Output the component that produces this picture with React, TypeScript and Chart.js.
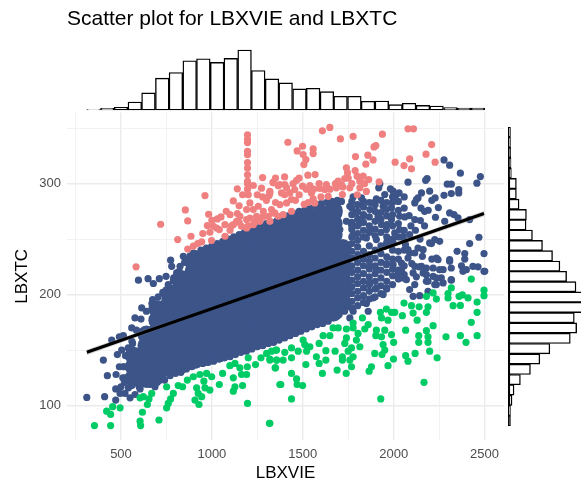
import React, { useEffect, useRef } from "react";
import { Chart, registerables } from "chart.js";

Chart.register(...registerables);

type P = [number, number];

const BLUE = "#3C5488";
const RED = "#F08080";
const GREEN = "#00CC66";
const FONT = "'Liberation Sans', Arial, sans-serif";

const titleText = "Scatter plot for LBXVIE and LBXTC";
const xLabel = "LBXVIE";
const yLabel = "LBXTC";

const xHistBins = [349,425,500,576,651,727,802,878,953,1029,1104,1180,1255,1331,1406,1482,1557,1633,1708,1784,1859,1935,2010,2085,2161,2236,2312,2387,2463];
const xHistCounts = [1,5,8,24,51,95,112,147,153,142,154,179,118,93,81,63,65,55,41,41,26,27,16,20,14,12,7,6,6];
const yHistBins = [346.5,337.2,327.9,318.6,309.3,300,290.7,281.4,272.1,262.8,253.5,244.2,234.9,225.6,216.3,207,197.7,188.4,179.1,169.8,160.5,151.2,141.9,132.6,123.3,114,104.7,95.4,86.1];
const yHistCounts = [3,3,5,6,7,22,22,30,52,51,70,100,130,152,172,200,222,222,195,202,183,122,92,64,34,15,9,2,1];

const fitX = [312, 1200, 2497];
const fitY = [148, 198.8, 273];
const fitUpper = [150.6, 199.6, 275.6];
const fitLower = [145.4, 198, 270.4];

const redPoints: P[] = [
[1196,344],[1196,340],[1196,337],[1196,329],[1196,326],[1196,319],[1196,314],[1196,308],[1196,302],[1196,300],[1196,295],
[583,225],[718,263.4],[812,249.6],[854,276.3],[867,266.4],[885,252.6],[867,241.1],[898,243.6],[944,247.5],[922,246],[962,289.2],[982,272.4],[975,262.2],[1008,261.6],[989,256.2],[998,248.7],[1030,268.2],[1041,258.6],[1072,263],[1079,275.1],[1072,252.6],[1118,284.4],[1140,295.3],[1140,273],[1169,290],[1136,266],[1108,262],[1163,261.6],[1191,260],[1228,298.3],[1279,305.5],[1273,295.9],[1279,288],[1319,293],[1337,301.3],[1365,298],[1315,289.2],[1209,282.6],[1191,276.6],[1228,276.6],[1255,279.6],[1283,275],[1246,270.6],[1209,269],[1310,270.6],[1337,273.6],[1264,266],[1319,266],[1365,270.6],[1228,263],[1191,267.6],[1026,260],[1118,263],[1154,270.6],
[1418,337.3],[1469,329.5],[1499,333.7],[1502,326.2],[1517,321.7],[1506,317.2],[1557,331.3],[1557,327.1],[1608,347.6],[1649,350.6],[1707,340.3],[1777,342.5],[1938,344.6],[1892,333.1],[1902,334.3],[1790,324.4],[1858,325.6],[1887,321.4],[1847,317.5],[2079,349.4],[2109,349.4],[2209,335.2],[2178,326.5],[2088,322.3],[2008,319.3],[2057,316.3],[2098,313.3],[2228,319.3],[1528,307.6],[1568,308.2],[1740,314.2],[1746,309.7],[1788,311.8],[1799,306.7],[1832,306.7],[1863,303.7],[1920,301.6],[1814,302.2],[1731,304.6],[1695,302.2],[1713,299.2],[1759,296.2],[1814,296.2],[1685,296.2],[1718,290.2],[1630,299.2],[1594,295.6],[1640,288.6],[1621,294.7],[1466,303],[1447,300],[1499,297.7],[1539,298.3],[1548,291.6],[1557,286.2],[1566,282.6],[1508,281.4],[1438,275.1],[1456,294.7],[1429,291.6],[1411,296.2],[1374,299.2],[1337,300.7],[1401,299.2],[1438,285.6],[1411,282.6],[1374,281.1],[1328,276.6],[1346,273.6],[1392,272],[1319,291.6],[1383,291.6],
[1100,258],[1150,265],[1200,262],[1240,266],[1280,270],[1350,283],[1400,290],[1460,285],[1480,290],[1520,295],[1530,283],[1560,295],[1600,288],[1650,295],[1680,300],[1750,305],[1770,300],[1840,300],[1800,290],[1850,293],[1720,297],[1590,300],[1480,305],[1400,306],[1350,305],[1300,285],[1250,290],[1200,290],[1150,280],[1100,272],[1050,270],[1000,267],[950,255],
];

const greenPoints: P[] = [
[2427,214],[2317,206],[2497,204],[2497,199],[2217,201.5],[2180,198.5],[2235,196],[2299,201],[2299,197],[2360,198.5],[2378,199.7],[2409,197],[2459,193.3],[2327,190],[2367,190.3],[2459,184],[2427,175],[2459,163],[2367,163],[2398,157],[2288,162],[2057,192.4],[2098,190],[2140,189],[2189,189],[2180,184],[2107,183.4],[2129,177],[2048,181],[2006,184],[1988,184],[1960,187],[1927,184],[1933,179],[1969,177],[2217,172],[2180,167.5],[2066,168],[2138,163],[2189,162],[2189,157],[2138,157],[2198,149],[2118,147],[2239,143],[2066,145],[2079,140],[1999,142],[1969,136],[1878,135],[1865,131],[2167,121],[1929,106],[1828,179],[1860,173],[1841,169],[1777,174.4],[1777,170],[1740,169],[1695,170],[1667,170],[1649,163],[1612,163],[1590,156],[1740,161],[1731,156],[1804,165],[1795,159],[1814,153],[1768,152],[1750,149],[1777,144],[1759,141],[1768,135],[1718,144],[1718,141],[1678,149],[1627,149.5],[1627,141],[1590,138],[1575,144],[1539,153],[1502,159],[1511,155],[1475,149],[1521,149],[1438,152],[1401,148],[1438,143],[1356,150],[1328,149],[1392,141],[1356,141],[1319,142],[1348,134],[1517,137],[1438,129],[1466,124],[1469,119],[1499,118],[1379,119],[1438,106],[1608,129],[1689,132],[1739,129],[1319,84],[1905,168],[1902,163],[1951,168],[1988,164],[2000,157],[1933,162],[1942,155],[1951,150],[1896,147],[1936,146],
[354,82],[443,82],[421,95],[443,92],[454,99],[495,98],[605,86],[608,82],[618,94],[709,87],[605,107],[623,108],[645,101],[654,106],[669,111],[751,98],[760,102],[773,106],[788,111],[751,117],[815,118],[839,117],[865,123],[898,126],[916,116],[925,111],[944,108],[907,105],[929,101],[962,116],[989,114],[956,122],[934,128],[971,129],[999,126],[1041,119],[1059,129],[1099,136],[1127,138],[1154,134],[1118,125],[1127,117],[1118,113],[1169,118],[1163,128],[1195,135],[1200,143],[1191,128],[1240,137],[1270,143],[1301,147],[1319,141],[1352,150],[1356,141],[1350,134],[1374,119],[1196,102],[1317,84],
];

const blueSparse: P[] = [
[2277,321.4],[2308,316.6],[2367,309.4],[2477,306.4],[2458,300.4],[2079,301.3],[2184,304.6],[2176,303],[2295,299.5],[2317,299.5],[2358,294.7],[2358,291.6],[2317,291],[2277,289.5],[2198,293.2],[2228,287.1],[2246,278.4],[1924,300],[1918,296.2],[1982,295.3],[1951,290.2],[2015,290.2],[1997,293.2],[2030,291.6],[2006,285.6],[2153,291.6],[2134,287.1],[2116,282.6],[2125,285.6],[1905,286.2],[1887,282.6],[1823,287.1],[1777,288],[1942,279.6],[1960,276.6],[1988,278.1],[1869,276.6],[1914,270.6],[1988,267.6],[2033,270.6],[2085,271.2],[2061,270],[2116,267.6],[2147,266.7],[2230,269.7],[2308,273.6],[2332,272.1],[2281,266.1],[2354,269.1],[2418,267.6],[2469,251.7],[2418,246],[2497,237],[2349,239],[2391,237],[2391,232],[2253,248],[2226,249.6],[2208,246],[2162,240.5],[2120,258],[2088,254],[2033,258.6],[2006,255.6],[1960,258.6],[1933,263],[1869,257],[1814,264.6],[1768,263],[1740,266],[1704,258.6],[1759,279.6],[1713,284],[1667,282.6],[1832,270.6],[1795,273.6],[1777,254],[1850,251],[1905,249.6],[1951,243.6],[1997,246.6],[2088,237.5],[2116,237.5],[2158,234.5],[2079,233],[2043,228.5],[1997,227],[1960,227],[1869,225.5],[1905,222.5],[2024,219.5],[2070,213.5],[2116,209],[2180,212],[2235,209],[2272,210.5],[2217,224],[2162,219.5],[2116,225.5],[2244,231.5],[2308,230],[2317,224],[2373,226],[2436,225.5],[2464,225],[2497,221],[2400,222.5],[2272,222.5],[2180,224],[2317,213.5],
[2052,215],[2125,216],[2189,212],[2226,209],[2262,215],[2317,213],[2381,221],[2501,221],[2088,204.5],[2107,198.5],[2143,199],[2189,203],[1869,210.5],[1905,206],[1960,206],[1942,200],[1887,197],[1860,185],[1759,179],[1850,192],[1713,188],[1777,185],
[312,107.4],[410,108],[471,105],[471,115],[500,117],[495,111],[550,107],[522,111],[577,110],[605,115],[425,127],[473,128],[491,135],[403,141],[480,146],[504,150],[449,159],[491,162],[513,163],[559,170],[577,179],[614,188],[674,195.5],[705,198],[564,156],[513,135],[522,125],[641,120],[687,117],[541,116],
[596,213],[649,214.4],[678,210],[711,214.4],[748,216.5],[788,212.6],[773,231],[779,225.5],[843,234.5],[898,237.5],[806,219.5],[825,225.5],
[2052,252.6],[2079,240.5],[2134,242],[2198,246.6],[2235,233],[2253,222.5],[2308,231.5],[2217,216.5],[2107,219.5],[2043,222.5],[2153,225.5],[2180,218],[2235,215],[2100,228],[2145,250],[2170,262],[2190,276],[2210,285],[2170,275],[2150,278],[2095,262],[2065,245],[2140,225],[2210,232],
];

const blueRightBody: [number, number[]][] = [
[1770,[188,194,201,207,213,220,226,233,239,246,252,259,265,272,278,284]],
[1802,[190,197,203,210,216,222,229,236,243,249,255,262,268,275,281]],
[1834,[193,199,206,212,219,226,232,239,252,258,265,272,279,284]],
[1866,[196,203,209,216,223,230,236,244,256,262,270,283]],
[1898,[198,205,212,219,226,233,240,253,259,266,275,281]],
[1930,[201,208,215,222,229,237,244,256,268,274,285]],
[1962,[205,212,220,228,234,247,252,263,271,283]],
[1994,[209,217,223,232,240,250,262,272,283,288]],
[2026,[214,222,232,239,252,264,276,284]],
[2058,[218,226,240,249,258,278,288]],
];

const blueUpperEdge: P[] = [
[730,202],[760,209],[790,215],[820,221],[850,229],[880,235],[910,237],[940,240],[970,242],[1000,244],[1030,246],[1060,248],[1090,250],[1120,252],[1150,254],[1180,256],[1210,258],[1240,260],[1270,262],[1300,264],[1330,265],[1360,267],[1390,269],[1420,271],[1450,273],[1480,275],[1510,276],[1540,278],[1570,280],[1600,282],[1630,283],[1660,284],[1690,285],
];
const blueLowerEdge: P[] = [
[520,121],[560,118],[600,117],[660,119],[700,121],[740,123],[770,127],[800,129],[830,130],[860,133],[890,135],[920,137],[950,138],[980,139],[1010,140],[1040,142],[1070,143],[1100,144],[1130,146],[1160,148],[1190,149],[1220,151],[1250,153],[1280,154],[1310,156],[1340,157],[1370,159],[1400,161],[1430,163],[1460,165],[1490,167],[1520,169],[1550,171],[1580,173],[1610,174],[1640,176],[1670,179],[1700,182],[1730,185],
[510,125],[515,135],[525,145],[540,152],[560,158],[585,168],[610,178],[640,185],[670,192],
];

const blueOverplotted: [number, number[]][] = [
[570,[125,135,145]],
[640,[124,134,144,154,164]],
[700,[127,137,147,157,167,177,187]],
[770,[134,144,154,164,174,184,194,201]],
[830,[137,147,157,167,177,187,197,207,214]],
[900,[141,151,161,171,181,191,201,211,221,229]],
[970,[144,154,164,174,184,194,204,214,224,234]],
[1040,[147,157,167,177,187,197,207,217,227,237,240]],
[1110,[151,161,171,181,191,201,211,221,231,241,245]],
[1180,[155,165,175,185,195,205,215,225,235,245,250]],
[1250,[159,169,179,189,199,209,219,229,239,249,254]],
[1320,[162,172,182,192,202,212,222,232,242,252,257]],
[1390,[166,176,186,196,206,216,226,236,246,256,261]],
[1460,[171,181,191,201,211,221,231,241,251,261,265]],
[1530,[176,186,196,206,216,226,236,246,256,266,269]],
[1600,[180,190,200,210,220,230,240,250,260,270,273]],
[1670,[184,194,204,214,224,234,244,254,264,274,276]],
[1720,[192,202,212,222,232,242]],
];

const toXY = (list: P[]) => list.map(([x, y]) => ({ x, y }));
const colsXY = (cols: [number, number[]][]) => cols.flatMap(([x, ys]) => ys.map((y) => ({ x, y })));
const lineXY = (ys: number[]) => fitX.map((x, i) => ({ x, y: ys[i] }));

const XMIN = 203, XMAX = 2607, YMIN = 69, YMAX = 364;

export default function App() {
  const mainRef = useRef<HTMLCanvasElement>(null);
  const topRef = useRef<HTMLCanvasElement>(null);
  const rightRef = useRef<HTMLCanvasElement>(null);

  useEffect(() => {
    const pointDs = (label: string, data: any[], color: string, r = 3.6) => ({
      label, data, backgroundColor: color, borderWidth: 0, pointRadius: r, pointHoverRadius: r,
    });
    const gridCfg = (major: (v: number) => boolean) => ({
      color: (c: any) => (major(c.tick?.value) ? "#EBEBEB" : "#F0F0F0"),
      lineWidth: (c: any) => (major(c.tick?.value) ? 1.4 : 0.9),
      drawTicks: false,
    });
    const main = new Chart(mainRef.current!, {
      type: "scatter",
      data: {
        datasets: [
          { label: "fit", data: lineXY(fitY), showLine: true, borderColor: "#000", borderWidth: 3.2, pointRadius: 0, clip: false } as any,
          { label: "ci upper", data: lineXY(fitUpper), showLine: true, borderWidth: 0, borderColor: "transparent", pointRadius: 0 } as any,
          { label: "ci lower", data: lineXY(fitLower), showLine: true, borderWidth: 0, borderColor: "transparent", pointRadius: 0, fill: "-1", backgroundColor: "rgba(153,153,153,0.4)" } as any,
          pointDs("high", toXY(redPoints), RED),
          pointDs("low", toXY(greenPoints), GREEN),
          pointDs("mid", toXY(blueSparse), BLUE),
          pointDs("mid right", colsXY(blueRightBody), BLUE),
          pointDs("mid edge", toXY(blueUpperEdge), BLUE),
          pointDs("mid edge low", toXY(blueLowerEdge), BLUE),
          pointDs("mid overplotted", colsXY(blueOverplotted), BLUE, 9),
        ],
      },
      options: {
        animation: false,
        responsive: false,
        layout: { padding: { left: 0, right: 77, top: 0, bottom: 0 } },
        plugins: {
          legend: { display: false },
          tooltip: { enabled: false },
          title: {
            display: true, text: titleText, align: "start", fullSize: false, color: "#000",
            font: { family: FONT, size: 21, weight: "normal" }, padding: { top: 7, bottom: 80.4 },
          },
        },
        scales: {
          x: {
            type: "linear", min: XMIN, max: XMAX,
            afterFit: (s: any) => { s.height = 49; },
            border: { display: false },
            grid: gridCfg((v) => v % 500 === 0),
            title: { display: true, text: xLabel, color: "#000", font: { family: FONT, size: 17 }, padding: { top: 0, bottom: 5 } },
            ticks: {
              stepSize: 250, includeBounds: false, autoSkip: false, maxRotation: 0, color: "#4D4D4D", padding: 7,
              font: { family: FONT, size: 13 },
              callback: (v: any) => (Number(v) % 500 === 0 ? String(v) : ""),
            },
          },
          y: {
            type: "linear", min: YMIN, max: YMAX,
            afterFit: (s: any) => { s.width = 67; },
            border: { display: false },
            grid: gridCfg((v) => v % 100 === 0),
            title: { display: true, text: yLabel, color: "#000", font: { family: FONT, size: 17 }, padding: { top: 12, bottom: 0 } },
            ticks: {
              stepSize: 50, includeBounds: false, autoSkip: false, color: "#4D4D4D", padding: 6,
              font: { family: FONT, size: 13 },
              callback: (v: any) => (Number(v) % 100 === 0 ? String(v) : ""),
            },
          },
        },
      } as any,
    });

    const histDs = (data: any[]) => ({
      data, backgroundColor: "#FFFFFF", borderColor: "#000000", borderWidth: 1.4, borderSkipped: false,
      barPercentage: 1, categoryPercentage: 1, clip: false,
    });
    const hiddenPlugins = { legend: { display: false }, tooltip: { enabled: false }, title: { display: false } };

    const top = new Chart(topRef.current!, {
      type: "bar",
      data: { datasets: [histDs(xHistBins.map((x, i) => ({ x, y: xHistCounts[i] }))) as any] },
      options: {
        animation: false, responsive: false,
        layout: { padding: { left: 0, right: 0, top: 0, bottom: 2 } },
        plugins: hiddenPlugins,
        scales: {
          x: { type: "linear", min: XMIN, max: XMAX, display: false, offset: false },
          y: { type: "linear", min: 0, max: 203, display: false },
        },
      } as any,
    });

    const right = new Chart(rightRef.current!, {
      type: "bar",
      data: { datasets: [histDs(yHistBins.map((y, i) => ({ x: yHistCounts[i], y }))) as any] },
      options: {
        animation: false, responsive: false, indexAxis: "y",
        layout: { padding: { left: 3, right: 0, top: 0, bottom: 0 } },
        plugins: hiddenPlugins,
        scales: {
          x: { type: "linear", min: 0, max: 215, display: false },
          y: {
            type: "linear", min: 81.5, max: 351, offset: false,
            afterFit: (s: any) => { s.width = 0; },
            grid: { display: false },
            ticks: { display: false },
            border: { display: true, color: "#000000", width: 2.6 },
          },
        },
      } as any,
    });

    return () => { main.destroy(); top.destroy(); right.destroy(); };
  }, []);

  const abs = (l: number, t: number): React.CSSProperties => ({ position: "absolute", left: l, top: t });
  return (
    <div style={{ position: "absolute", left: 0, top: 0, width: 581, height: 489, overflow: "hidden", background: "#fff" }}>
      <canvas ref={mainRef} width={581} height={489} style={abs(0, 0)} />
      <canvas ref={topRef} width={437} height={70} style={abs(67, 42)} />
      <canvas ref={rightRef} width={75} height={299} style={abs(506, 127)} />
    </div>
  );
}
